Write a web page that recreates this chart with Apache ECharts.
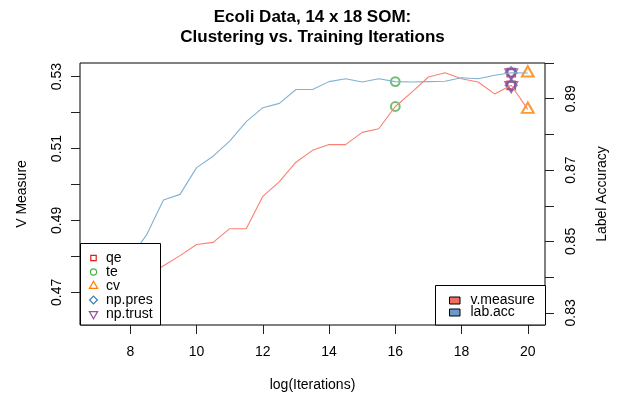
<!DOCTYPE html>
<html>
<head>
<meta charset="utf-8">
<script src="https://cdn.jsdelivr.net/npm/echarts@6/dist/echarts.min.js"></script>
<style>
  html, body { margin: 0; padding: 0; background: #fff; }
  #chart { width: 620px; height: 398px; }
</style>
</head>
<body>
<div id="chart"></div>
<script>
// ---- data ----
const iterations = [7, 7.5, 8, 8.5, 9, 9.5, 10, 10.5, 11, 11.5, 12, 12.5, 13, 13.5,
                    14, 14.5, 15, 15.5, 16, 16.5, 17, 17.5, 18, 18.5, 19, 19.5, 20];
const vMeasure = [0.4636, 0.4680, 0.4716, 0.4745, 0.4774, 0.4802, 0.4833, 0.4839, 0.4877,
                  0.4877, 0.4967, 0.5008, 0.5062, 0.5095, 0.5111, 0.5111, 0.5145, 0.5155,
                  0.5217, 0.5257, 0.5299, 0.5311, 0.5294, 0.5285, 0.5252, 0.5276, 0.5209];
const labAcc = [0.8293, 0.8370, 0.8455, 0.8520, 0.8616, 0.8632, 0.8707, 0.8739, 0.8781,
                0.8836, 0.8875, 0.8887, 0.8926, 0.8926, 0.8948, 0.8956, 0.8947, 0.8956,
                0.8948, 0.8947, 0.8948, 0.8949, 0.8959, 0.8956, 0.8966, 0.8973, 0.8972];
const criteria = ['qe', 'te', 'cv', 'np.pres', 'np.trust'];
const bestIteration = [19.5, 16, 20, 19.5, 19.5];
const seriesNames = ['v.measure', 'lab.acc'];
const xTicks = [8, 10, 12, 14, 16, 18, 20];
const leftTicks = [0.47, 0.48, 0.49, 0.50, 0.51, 0.52, 0.53];
const leftLabels = [0.47, 0.49, 0.51, 0.53];
const rightTicks = [0.83, 0.84, 0.85, 0.86, 0.87, 0.88, 0.89, 0.90];
const rightLabels = [0.83, 0.85, 0.87, 0.89];

// ---- styles ----
const FONT = 'Liberation Sans, Arial, Helvetica, sans-serif';
const lineColors = ['#FB8072', '#80B1D3'];
const legendFills = ['#F26C60', '#6A9ACB'];
const markerColors = ['#E41A1C', '#4DAF4A', '#FF7F00', '#377EB8', '#984EA3'];
const DOWN_TRI = 'path://M0,0L12,0L6,10.4Z';
const markerSymbols = ['rect', 'circle', 'triangle', 'diamond', DOWN_TRI];
const markerSizes = [[7.8, 7.8], [8.8, 8.8], [11.8, 10.3], [11, 11], [11.8, 10.3]];
const markerOffsets = [[0, 0], [0, 0], [0, -1.7], [0, 0], [0, 1.7]];

// axis range padded by 4% on each side, as in base R plots
function padRange(arr) {
  const lo = Math.min(...arr), hi = Math.max(...arr), d = (hi - lo) * 0.04;
  return [lo - d, hi + d];
}
const xRange = padRange(iterations);
const leftRange = padRange(vMeasure);
const rightRange = padRange(labAcc);

const tickStyle = { color: '#222', width: 1 };
const labelStyle = { fontSize: 14, color: '#000', fontFamily: FONT };

function yAxisDef(pos, range, ticks, labels, name, margin, gap) {
  return {
    type: 'value', position: pos, min: range[0], max: range[1],
    axisLine: { show: false },
    splitLine: { show: false },
    axisTick: { show: true, length: 9, customValues: ticks, lineStyle: tickStyle },
    axisLabel: Object.assign({ customValues: labels, rotate: 90, margin: margin,
      formatter: v => v.toFixed(2) }, labelStyle),
    name: name, nameLocation: 'middle', nameRotate: 90, nameGap: gap,
    nameTextStyle: labelStyle
  };
}

const series = [
  {
    name: seriesNames[0], type: 'line', yAxisIndex: 0, showSymbol: false, symbol: 'none',
    data: iterations.map((x, i) => [x, vMeasure[i]]),
    lineStyle: { color: lineColors[0], width: 1.1 }, silent: true
  },
  {
    name: seriesNames[1], type: 'line', yAxisIndex: 1, showSymbol: false, symbol: 'none',
    data: iterations.map((x, i) => [x, labAcc[i]]),
    lineStyle: { color: lineColors[1], width: 1.1 }, silent: true
  }
];

// each criterion's chosen iteration, marked on both curves
criteria.forEach((c, k) => {
  const idx = iterations.indexOf(bestIteration[k]);
  [[0, vMeasure], [1, labAcc]].forEach(([axis, vals]) => {
    series.push({
      name: c, type: 'scatter', yAxisIndex: axis,
      data: [[bestIteration[k], vals[idx]]],
      symbol: markerSymbols[k], symbolSize: markerSizes[k], symbolOffset: markerOffsets[k],
      itemStyle: { color: 'rgba(0,0,0,0)', borderColor: markerColors[k], borderWidth: 2 },
      silent: true
    });
  });
});

// legend drawings
const legendSymbolShapes = [
  (cx, cy) => ({ type: 'rect', shape: { x: cx - 2.7, y: cy - 2.7, width: 5.4, height: 5.4 } }),
  (cx, cy) => ({ type: 'circle', shape: { cx: cx, cy: cy, r: 3.1 } }),
  (cx, cy) => ({ type: 'polygon', shape: { points: [[cx, cy - 4.8], [cx + 4.1, cy + 2.4], [cx - 4.1, cy + 2.4]] } }),
  (cx, cy) => ({ type: 'polygon', shape: { points: [[cx, cy - 3.9], [cx + 3.9, cy], [cx, cy + 3.9], [cx - 3.9, cy]] } }),
  (cx, cy) => ({ type: 'polygon', shape: { points: [[cx, cy + 4.8], [cx + 4.1, cy - 2.4], [cx - 4.1, cy - 2.4]] } })
];

const graphics = [];
// title
graphics.push({ type: 'text', x: 312.5, y: 17.5, z: 100,
  style: { text: 'Ecoli Data, 14 x 18 SOM:', fontSize: 17, fontWeight: 'bold', fontFamily: FONT,
    fill: '#000', align: 'center', verticalAlign: 'middle' } });
graphics.push({ type: 'text', x: 312.5, y: 37.5, z: 100,
  style: { text: 'Clustering vs. Training Iterations', fontSize: 17, fontWeight: 'bold', fontFamily: FONT,
    fill: '#000', align: 'center', verticalAlign: 'middle' } });

// criteria legend (bottom left)
graphics.push({ type: 'rect', z: 100, shape: { x: 80.5, y: 243.5, width: 80, height: 81.5 },
  style: { fill: '#fff', stroke: '#000', lineWidth: 1 } });
criteria.forEach((c, k) => {
  const cy = 258 + 14 * k;
  const sym = legendSymbolShapes[k](93.5, cy);
  sym.z = 101;
  sym.style = { fill: 'none', stroke: markerColors[k], lineWidth: 1.2 };
  graphics.push(sym);
  graphics.push({ type: 'text', x: 106, y: cy, z: 101,
    style: { text: c, fontSize: 14, fontFamily: FONT, fill: '#000', align: 'left', verticalAlign: 'middle' } });
});

// series legend (bottom right)
graphics.push({ type: 'rect', z: 100, shape: { x: 435.5, y: 285.5, width: 110, height: 39.5 },
  style: { fill: '#fff', stroke: '#000', lineWidth: 1 } });
seriesNames.forEach((n, k) => {
  const cy = 300.5 + 12 * k;
  graphics.push({ type: 'rect', z: 101, shape: { x: 449.5, y: cy - 3.5, width: 10.5, height: 7 },
    style: { fill: legendFills[k], stroke: '#000', lineWidth: 1 } });
  graphics.push({ type: 'text', x: 470.5, y: cy, z: 101,
    style: { text: n, fontSize: 14, fontFamily: FONT, fill: '#000', align: 'left', verticalAlign: 'middle' } });
});

const chart = echarts.init(document.getElementById('chart'), null, { renderer: 'canvas' });
chart.setOption({
  animation: false,
  backgroundColor: '#fff',
  textStyle: { fontFamily: FONT },
  grid: { left: 80, right: 75, top: 63, bottom: 73, show: true,
    borderColor: '#000', borderWidth: 1, backgroundColor: 'transparent' },
  xAxis: {
    type: 'value', min: xRange[0], max: xRange[1],
    axisLine: { show: false, onZero: false },
    splitLine: { show: false },
    axisTick: { show: true, length: 9, customValues: xTicks, lineStyle: tickStyle },
    axisLabel: Object.assign({ customValues: xTicks, margin: 20 }, labelStyle),
    name: 'log(Iterations)', nameLocation: 'middle', nameGap: 53,
    nameTextStyle: labelStyle
  },
  yAxis: [
    yAxisDef('left', leftRange, leftTicks, leftLabels, 'V Measure', 16, 51),
    yAxisDef('right', rightRange, rightTicks, rightLabels, 'Label Accuracy', 19, 50)
  ],
  series: series,
  graphic: graphics
});
</script>
</body>
</html>
